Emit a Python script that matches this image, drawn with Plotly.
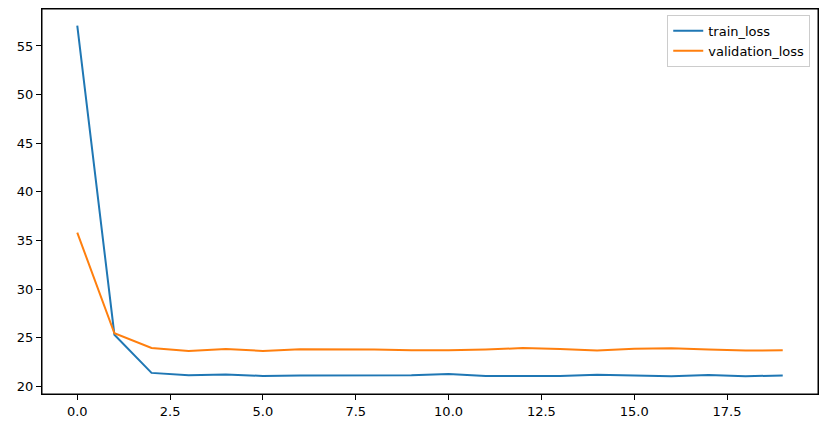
import plotly.graph_objects as go

epochs = list(range(20))
train_loss = [57.1, 25.3, 21.37, 21.13, 21.2, 21.06, 21.1, 21.1, 21.07, 21.12, 21.25,
              21.04, 21.06, 21.05, 21.18, 21.07, 21.03, 21.15, 21.03, 21.1]
validation_loss = [35.8, 25.45, 23.94, 23.63, 23.82, 23.63, 23.8, 23.82, 23.78, 23.7, 23.7,
                   23.78, 23.92, 23.84, 23.67, 23.86, 23.9, 23.78, 23.67, 23.7]

x_ticks = [0.0, 2.5, 5.0, 7.5, 10.0, 12.5, 15.0, 17.5]
y_ticks = [20, 25, 30, 35, 40, 45, 50, 55]

fig = go.Figure()
fig.add_trace(go.Scatter(x=epochs, y=train_loss, mode="lines", name="train_loss",
                         line=dict(color="#1f77b4", width=2)))
fig.add_trace(go.Scatter(x=epochs, y=validation_loss, mode="lines", name="validation_loss",
                         line=dict(color="#ff7f0e", width=2)))

axis_common = dict(showline=True, linecolor="black", linewidth=1, mirror=True,
                   ticks="outside", ticklen=5, tickwidth=1, tickcolor="black",
                   showgrid=False, zeroline=False,
                   tickfont=dict(family="DejaVu Sans", size=13, color="black"))

fig.update_layout(
    width=837, height=431, autosize=False,
    margin=dict(l=34, r=27, t=1, b=45),
    paper_bgcolor="white", plot_bgcolor="white",
    xaxis=dict(range=[-0.95, 19.95], tickvals=x_ticks,
               ticktext=[f"{v:.1f}" for v in x_ticks], **axis_common),
    yaxis=dict(range=[19.2, 58.8], tickvals=y_ticks,
               ticktext=[str(v) for v in y_ticks], **axis_common),
    legend=dict(x=0.99, y=0.985, xanchor="right", yanchor="top",
                bgcolor="rgba(255,255,255,0.8)", bordercolor="#cccccc", borderwidth=1,
                font=dict(family="DejaVu Sans", size=13, color="black"),
                tracegroupgap=0, itemwidth=30),
    shapes=[dict(type="rect", xref="paper", yref="paper", x0=0, x1=1, y0=0, y1=1,
                 line=dict(color="black", width=1), fillcolor="rgba(0,0,0,0)", layer="above")],
    showlegend=True,
)

fig.write_html("out.html")
